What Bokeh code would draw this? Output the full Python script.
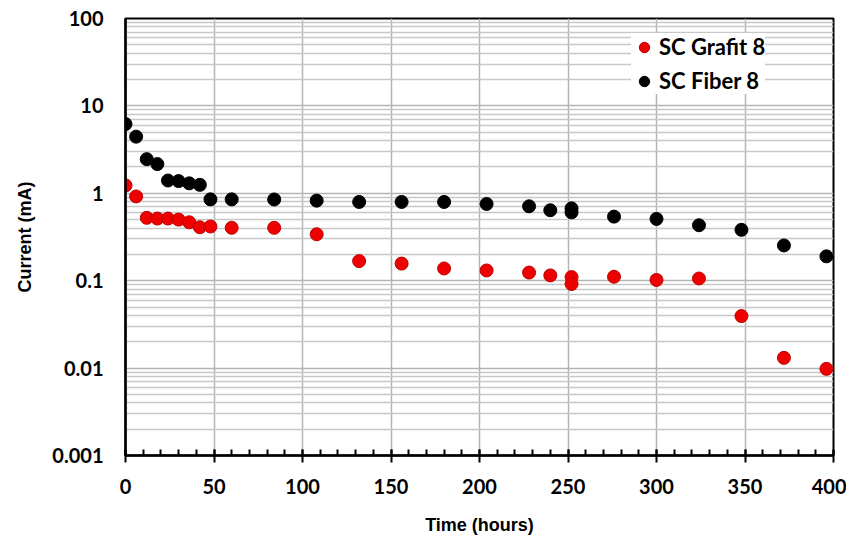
from bokeh.plotting import figure
from bokeh.models import (Range1d, FixedTicker, SingleIntervalTicker, CustomJSTickFormatter,
                          Legend, LegendItem, ColumnDataSource)
from bokeh.embed import file_html
from bokeh.resources import INLINE

# ---- data ----
hours = [0, 6, 12, 18, 24, 30, 36, 42, 48, 60, 84, 108, 132, 156, 180, 204,
         228, 240, 252, 252, 276, 300, 324, 348, 372, 396]
grafit = [1.23, 0.92, 0.524, 0.514, 0.514, 0.50, 0.466, 0.409, 0.417, 0.403, 0.403, 0.34,
          0.1675, 0.157, 0.138, 0.131, 0.124, 0.115, 0.110, 0.0917, 0.111, 0.102, 0.106,
          0.0394, 0.0131, 0.0098]
fiber = [6.2, 4.45, 2.46, 2.16, 1.40, 1.38, 1.30, 1.25, 0.853, 0.853, 0.85, 0.824,
         0.796, 0.796, 0.796, 0.755, 0.71, 0.64, 0.673, 0.605, 0.541, 0.509, 0.431,
         0.382, 0.253, 0.19]
y_major = [0.001, 0.01, 0.1, 1, 10, 100]
y_minor = [m * d for d in [0.001, 0.01, 0.1, 1, 10] for m in range(2, 10)]
series_names = ["SC Grafit 8", "SC Fiber 8"]

FONT = "Lato"
LABEL_FONT = "Liberation Sans"

p = figure(width=846, height=537, output_backend="svg", toolbar_location=None,
           x_range=Range1d(0, 400), y_range=Range1d(0.001, 100), y_axis_type="log",
           min_border_left=125, min_border_right=13, min_border_top=18, min_border_bottom=80)
p.background_fill_color = "white"
p.border_fill_color = "white"
p.outline_line_color = "black"
p.outline_line_width = 2

# axes
p.xaxis.ticker = SingleIntervalTicker(interval=50, num_minor_ticks=5)
p.yaxis.ticker = FixedTicker(ticks=y_major, minor_ticks=y_minor)
p.yaxis.formatter = CustomJSTickFormatter(code="return tick.toString();")

for ax in (p.xaxis[0], p.yaxis[0]):
    ax.axis_line_color = "black"
    ax.axis_line_width = 2.5
    ax.major_label_text_font = FONT
    ax.major_label_text_font_style = "bold"
    ax.major_label_text_font_size = "20px"
    ax.major_label_text_color = "black"
    ax.axis_label_text_font = LABEL_FONT
    ax.axis_label_text_font_style = "bold"
    ax.axis_label_text_color = "black"
    ax.axis_label_text_font_size = "18px"

p.xaxis.major_tick_in = 6
p.xaxis.major_tick_out = 7
p.xaxis.major_tick_line_width = 2
p.xaxis.major_tick_line_color = "black"
p.xaxis.minor_tick_in = 6
p.xaxis.minor_tick_out = 0
p.xaxis.minor_tick_line_width = 2
p.xaxis.minor_tick_line_color = "black"
p.xaxis.major_label_standoff = 16
p.xaxis.axis_label = "Time (hours)"
p.xaxis.axis_label_standoff = 18

p.yaxis.major_tick_in = 0
p.yaxis.major_tick_out = 0
p.yaxis.minor_tick_in = 0
p.yaxis.minor_tick_out = 0
p.yaxis.major_label_standoff = 22
p.yaxis.axis_label = "Current (mA)"
p.yaxis.axis_label_standoff = 14

# grids
p.xgrid.grid_line_color = "#b4b4b4"
p.xgrid.grid_line_width = 1.5
p.ygrid.grid_line_color = "#b4b4b4"
p.ygrid.grid_line_width = 1.5
p.ygrid.minor_grid_line_color = "#c8c8c8"
p.ygrid.minor_grid_line_width = 1.5

src = ColumnDataSource(dict(x=hours, g=grafit, f=fiber))
r1 = p.scatter("x", "g", source=src, size=13, fill_color="#ee0000", line_color="#c00000", line_width=1)
r2 = p.scatter("x", "f", source=src, size=13, fill_color="black", line_color="black", line_width=1)

legend = Legend(items=[LegendItem(label=series_names[0], renderers=[r1]),
                       LegendItem(label=series_names[1], renderers=[r2])],
                location=(506, 361))
legend.background_fill_color = "white"
legend.background_fill_alpha = 1
legend.border_line_color = None
legend.label_text_font = FONT
legend.label_text_font_style = "bold"
legend.label_text_font_size = "22px"
legend.label_text_color = "black"
legend.glyph_width = 26
legend.glyph_height = 26
legend.label_height = 26
legend.spacing = 7
legend.margin = 0
legend.label_standoff = 2
legend.padding = 6
p.add_layout(legend, "center")

open("out.html", "w").write(file_html(p, INLINE))
